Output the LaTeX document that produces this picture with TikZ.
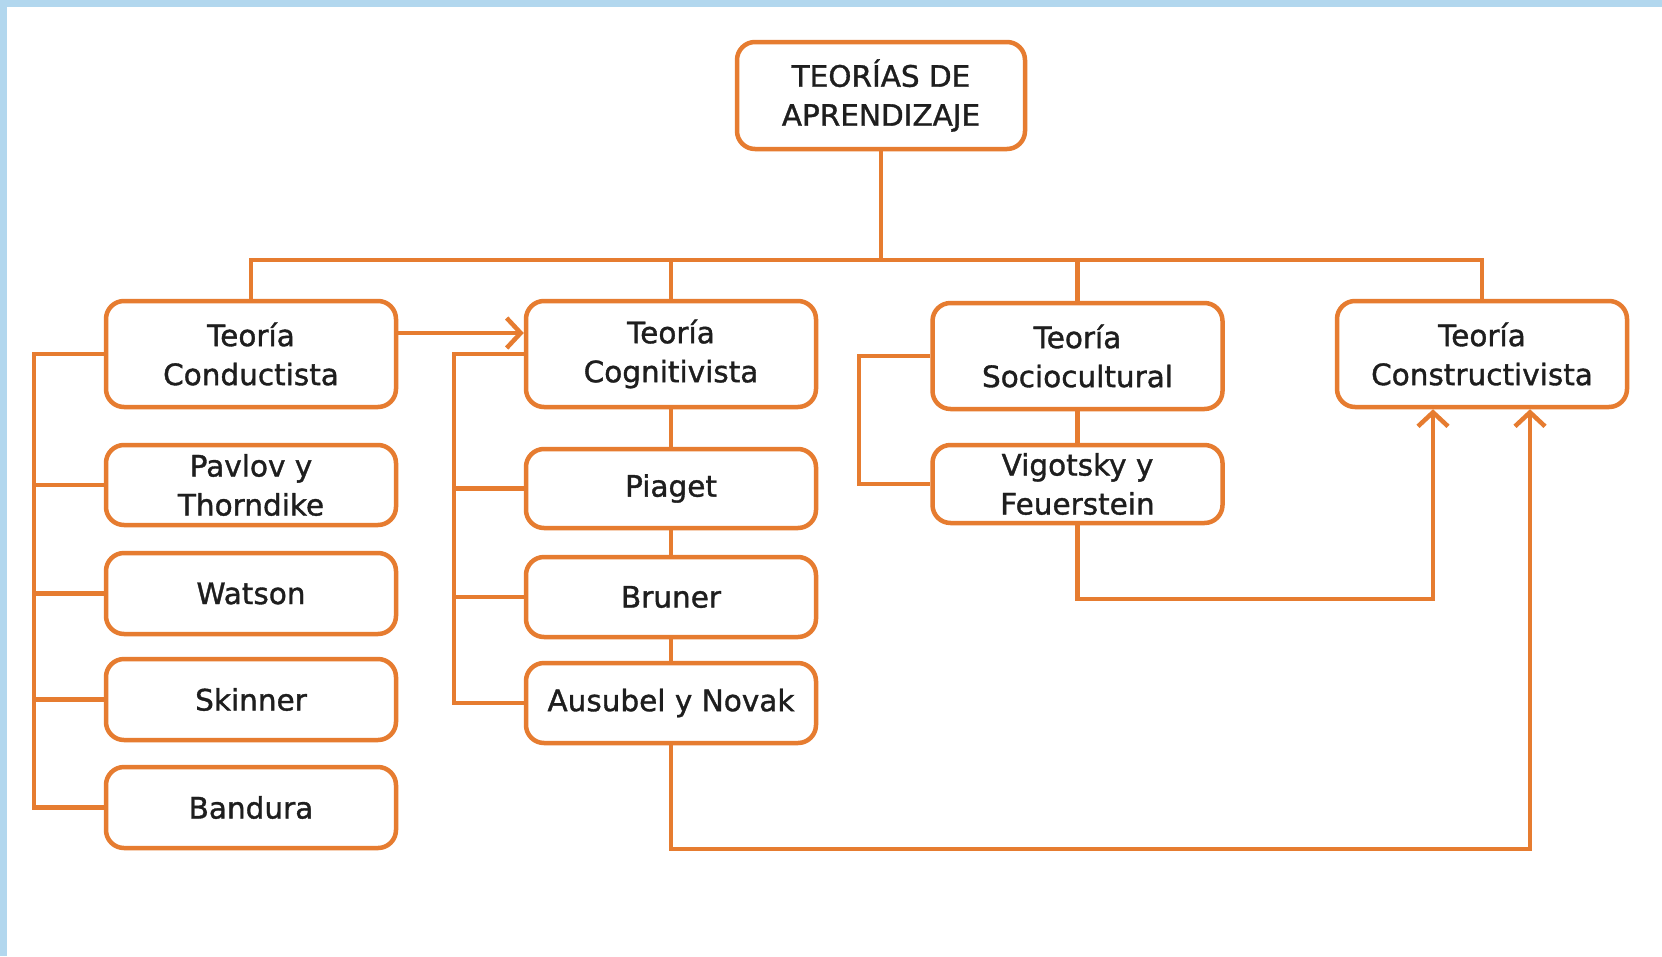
\documentclass[tikz,border=0pt]{standalone}
\usepackage{fontspec}
\setmainfont{DejaVu Sans}[FakeBold=1.2]
\newfontfamily\boxfont{DejaVu Sans}[FakeBold=1.2]
\usetikzlibrary{arrows.meta}
\definecolor{org}{RGB}{230,124,48}
\definecolor{txt}{RGB}{30,30,30}
\definecolor{sky}{RGB}{178,215,238}
\tikzset{
  box/.style={draw=org, line width=4.5pt, rounded corners=18pt, fill=white,
    minimum width=290pt, inner sep=0pt, align=center, text=txt,
    font=\boxfont\fontsize{29.5}{39}\selectfont},
  link/.style={draw=org, line width=4.5pt},
  arr/.style={link, -{Straight Barb[length=14pt,width=30pt,line width=4.5pt]}}
}
\begin{document}
\begin{tikzpicture}[x=1pt,y=-1pt]
\useasboundingbox (0,0) rectangle (1662,956);
\fill[white] (0,0) rectangle (1662,956);
\fill[sky] (0,0) rectangle (1662,7);
\fill[sky] (0,0) rectangle (7,956);

\node[box, minimum width=288pt, minimum height=107pt] (top) at (881,95.5) {TEORÍAS DE\\APRENDIZAJE};

\node[box, minimum height=106pt] (cond) at (251,354) {Teoría\\Conductista};
\node[box, minimum height=106pt] (cog) at (671,354) {Teoría\\Cognitivista};
\node[box, minimum height=106pt] (soc) at (1077.5,356) {Teoría\\Sociocultural};
\node[box, minimum height=106pt] (con) at (1482,354) {Teoría\\Constructivista};

\node[box, minimum height=80pt] (pav) at (251,485) {Pavlov y\\Thorndike};
\node[box, minimum height=81pt] (wat) at (251,593.5) {Watson};
\node[box, minimum height=81pt] (ski) at (251,699.5) {Skinner};
\node[box, minimum height=81pt] (ban) at (251,807.5) {Bandura};

\node[box, minimum height=79pt] (pia) at (671,488.5) {Piaget};
\node[box, minimum height=80pt] (bru) at (671,597) {Bruner};
\node[box, minimum height=80pt] (aus) at (671,703) {Ausubel y Novak};

\node[box, minimum height=78pt] (vig) at (1077.5,484) {Vigotsky y\\Feuerstein};

% main tree
\coordinate (bus) at (881,260);
\draw[link] (top.south) -- (bus);
\draw[link] (cond.north) |- (bus) -| (con.north);
\draw[link] (cog.north) -- (cog.north |- bus);
\draw[link] (soc.north) -- (soc.north |- bus);

% conductista bracket
\coordinate (lb) at (34,0);
\draw[link] (cond.west) -| (lb |- ban.west) -- (ban.west);
\draw[link] (pav.west) -- (pav.west -| lb);
\draw[link] (wat.west) -- (wat.west -| lb);
\draw[link] (ski.west) -- (ski.west -| lb);

% cognitivista
\coordinate (cb) at (454,0);
\draw[link] (cog.west) -| (cb |- aus.west) -- (aus.west);
\draw[link] (pia.west) -- (pia.west -| cb);
\draw[link] (bru.west) -- (bru.west -| cb);
\draw[link] (cog.south) -- (pia.north);
\draw[link] (pia.south) -- (bru.north);
\draw[link] (bru.south) -- (aus.north);

% sociocultural
\coordinate (sb) at (859,0);
\draw[link] (soc.west) -| (sb |- vig.west) -- (vig.west);
\draw[link] (soc.south) -- (vig.north);

% arrows
\draw[arr] ([yshift=21pt]cond.east) -- ([yshift=21pt]cog.west);
\coordinate (vturn) at (1433,599);
\draw[arr] (vig.south) |- (vturn) -- (vturn |- con.south);
\coordinate (aturn) at (1530,849);
\draw[arr] (aus.south) |- (aturn) -- (aturn |- con.south);
\end{tikzpicture}
\end{document}
